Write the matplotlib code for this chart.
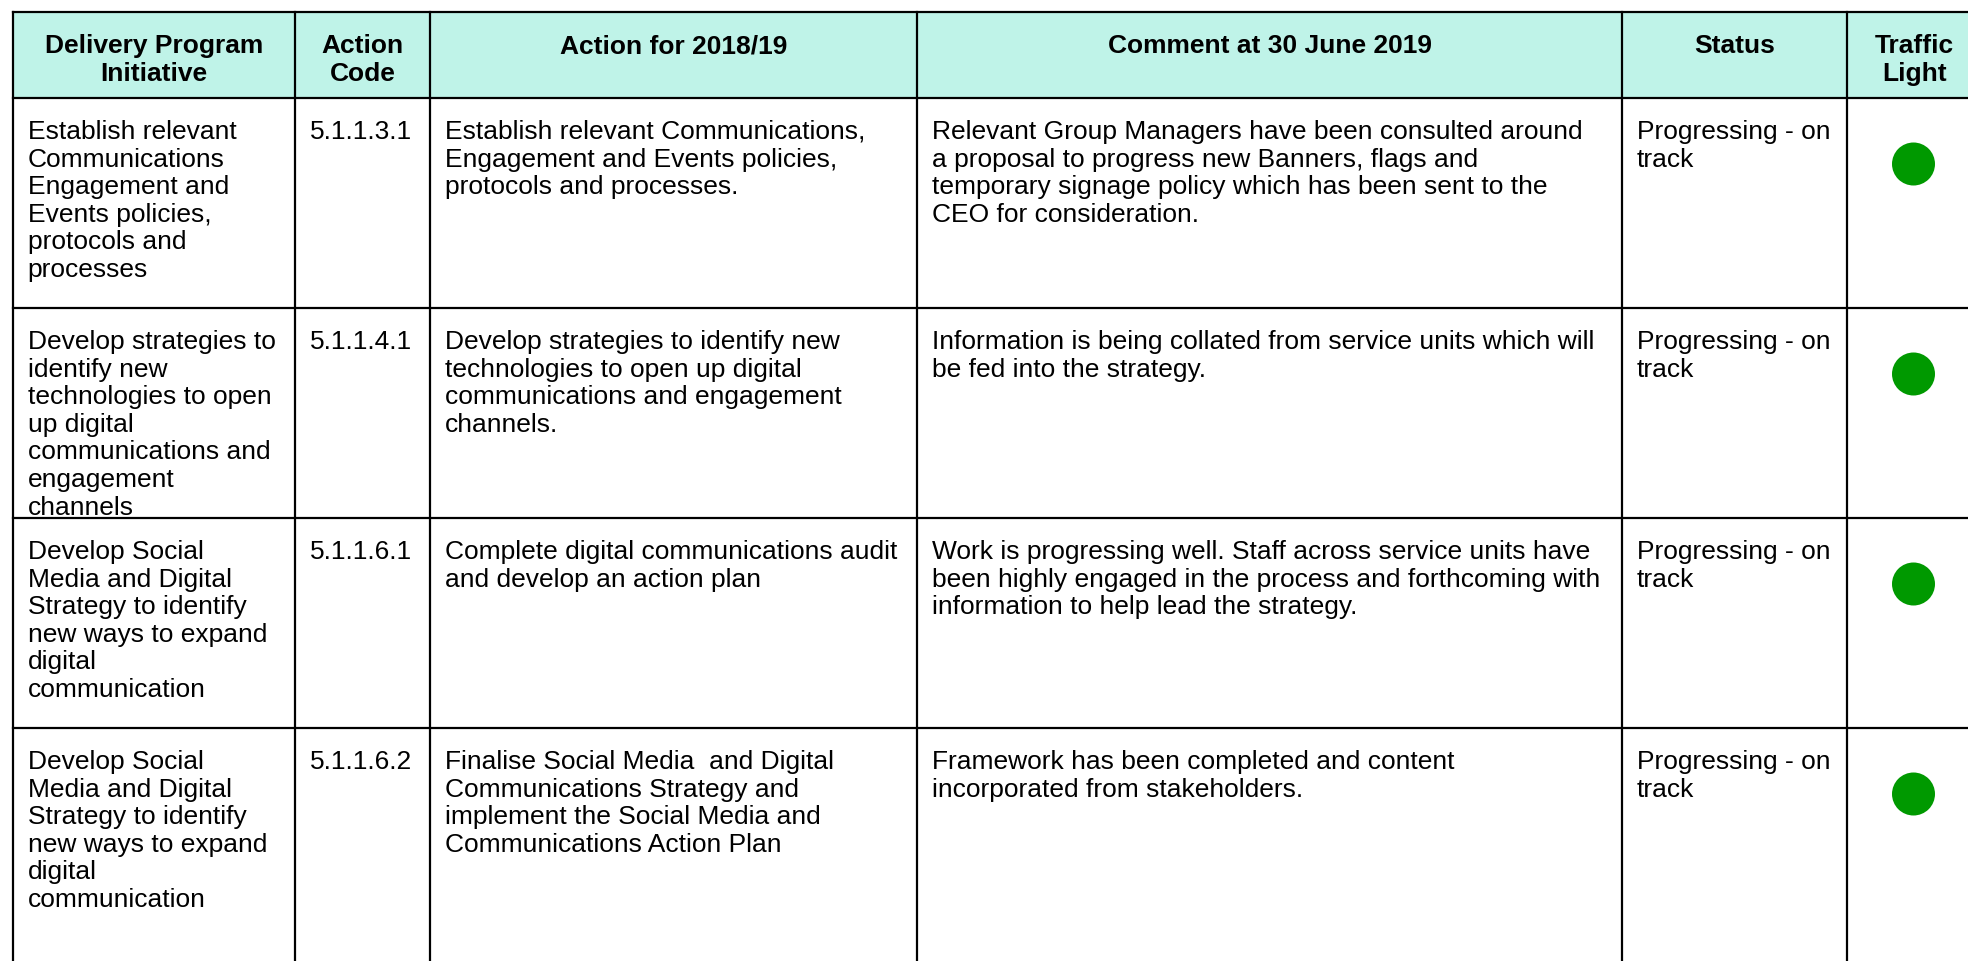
import matplotlib
matplotlib.use("Agg")
import matplotlib.pyplot as plt
from matplotlib.patches import Rectangle, Circle

# ---- table content ----
headers = ["Delivery Program\nInitiative", "Action\nCode", "Action for 2018/19",
           "Comment at 30 June 2019", "Status", "Traffic\nLight"]

initiatives = [
    "Establish relevant\nCommunications\nEngagement and\nEvents policies,\nprotocols and\nprocesses",
    "Develop strategies to\nidentify new\ntechnologies to open\nup digital\ncommunications and\nengagement\nchannels",
    "Develop Social\nMedia and Digital\nStrategy to identify\nnew ways to expand\ndigital\ncommunication",
    "Develop Social\nMedia and Digital\nStrategy to identify\nnew ways to expand\ndigital\ncommunication",
]
codes = ["5.1.1.3.1", "5.1.1.4.1", "5.1.1.6.1", "5.1.1.6.2"]
actions = [
    "Establish relevant Communications,\nEngagement and Events policies,\nprotocols and processes.",
    "Develop strategies to identify new\ntechnologies to open up digital\ncommunications and engagement\nchannels.",
    "Complete digital communications audit\nand develop an action plan",
    "Finalise Social Media  and Digital\nCommunications Strategy and\nimplement the Social Media and\nCommunications Action Plan",
]
comments = [
    "Relevant Group Managers have been consulted around\na proposal to progress new Banners, flags and\n"
    "temporary signage policy which has been sent to the\nCEO for consideration.",
    "Information is being collated from service units which will\nbe fed into the strategy.",
    "Work is progressing well. Staff across service units have\nbeen highly engaged in the process and forthcoming with\n"
    "information to help lead the strategy.",
    "Framework has been completed and content\nincorporated from stakeholders.",
]
statuses = ["Progressing - on\ntrack"] * 4
lights = ["green", "green", "green", "green"]
light_colours = {"green": "#009900", "amber": "#ffbf00", "red": "#e00000"}

# ---- layout (pixel space) ----
W, H = 1968, 962
col_edges = [12.7, 295, 430, 917, 1622, 1847, 1982]
row_edges = [13.3, 99, 309, 519, 729, 990]
PAD, PITCH = 15, 27.6
FONT = ["Liberation Sans", "DejaVu Sans"]
FS = 19

fig = plt.figure(figsize=(W / 100, H / 100), dpi=100)
ax = fig.add_axes([0, 0, 1, 1])
ax.set_xlim(0, W)
ax.set_ylim(H, 0)
ax.axis("off")

# header band
ax.add_patch(Rectangle((col_edges[0], row_edges[0]), col_edges[-1] - col_edges[0],
                       row_edges[1] - row_edges[0], facecolor="#bff3e8", edgecolor="none", zorder=0))


def put(text, x, y, first=40, **kw):
    for i, line in enumerate(text.split("\n")):
        ax.text(x, y + first + i * PITCH, line, va="baseline", fontsize=FS, family=FONT, **kw)


for j, h in enumerate(headers):
    put(h, (col_edges[j] + col_edges[j + 1]) / 2, row_edges[0], first=40, ha="center", fontweight="bold")

body_cols = [initiatives, codes, actions, comments, statuses]
for r in range(len(codes)):
    y0 = row_edges[r + 1]
    for j, col in enumerate(body_cols):
        put(col[r], col_edges[j] + PAD, y0, ha="left")
    cx = (col_edges[5] + col_edges[6]) / 2 - 1
    ax.add_patch(Circle((cx, y0 + 66), 21.5, facecolor=light_colours[lights[r]],
                        edgecolor="none", zorder=3))

# grid
lw = 1.6
for y in row_edges[:-1]:
    ax.plot([col_edges[0], col_edges[-1]], [y, y], color="black", lw=lw, solid_capstyle="projecting")
for x in col_edges:
    ax.plot([x, x], [row_edges[0], row_edges[-1]], color="black", lw=lw, solid_capstyle="projecting")

fig.savefig("out.png", dpi=100)
